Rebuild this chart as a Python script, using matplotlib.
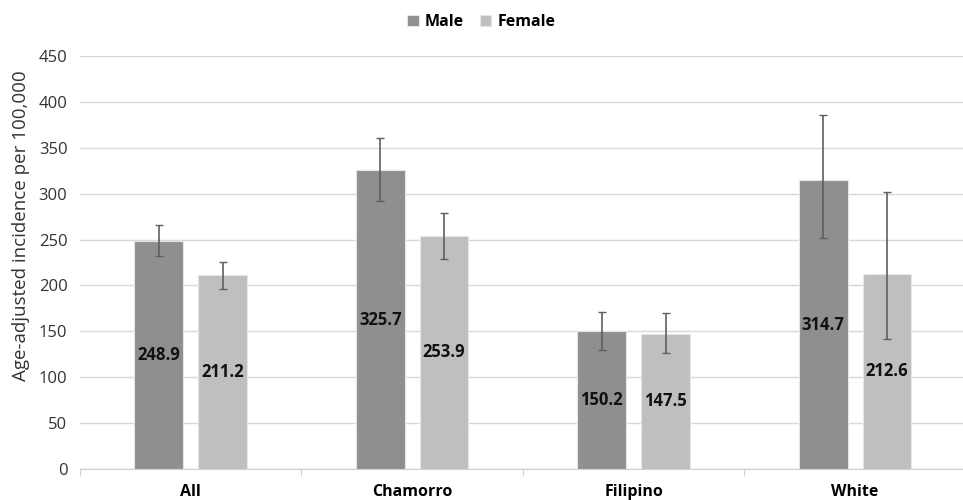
import numpy as np
import matplotlib.pyplot as plt

plt.rcParams["font.family"] = ["Open Sans", "DejaVu Sans"]

categories = ["All", "Chamorro", "Filipino", "White"]
male = [248.9, 325.7, 150.2, 314.7]
female = [211.2, 253.9, 147.5, 212.6]
male_lo = [231.6, 291.6, 129.6, 252.0]
male_hi = [266.0, 361.0, 171.4, 385.6]
female_lo = [195.7, 228.8, 126.0, 141.3]
female_hi = [225.8, 279.0, 169.6, 301.4]

male_color = "#8f8f8f"
female_color = "#bfbfbf"

fig = plt.figure(figsize=(9.63, 5), dpi=100)
ax = fig.add_axes([0.083, 0.062, 0.92, 0.826])

x = np.arange(len(categories))
w = 0.22
off = 0.144

for vals, lo, hi, color, sign, name in [
    (male, male_lo, male_hi, male_color, -1, "Male"),
    (female, female_lo, female_hi, female_color, 1, "Female"),
]:
    vals = np.array(vals)
    err = [vals - np.array(lo), np.array(hi) - vals]
    ax.bar(x + sign * off, vals, w, color=color, edgecolor="#e6e6e6",
           linewidth=0.8, label=name, zorder=2)
    ax.errorbar(x + sign * off, vals, yerr=err, fmt="none", ecolor="#5f5f5f",
                elinewidth=1.2, capsize=3, capthick=1.0, zorder=3)
    for xi, v in zip(x + sign * off, vals):
        ax.text(xi, v / 2, f"{v:.1f}", ha="center", va="center",
                fontsize=12, fontweight="bold", color="#111111", zorder=4)

ax.set_ylim(0, 450)
ax.set_xlim(-0.5, 3.5)
ax.set_yticks(np.arange(0, 451, 50))
ax.tick_params(axis="y", length=0, labelsize=12, colors="#333333", pad=9)
ax.grid(axis="y", color="#d9d9d9", linewidth=1, zorder=0)

ax.set_xticks(np.arange(-0.5, 4, 1))
ax.set_xticklabels([])
ax.tick_params(axis="x", which="major", length=5, color="#d0d0d0", direction="out")
ax.set_xticks(x, minor=True)
ax.set_xticklabels(categories, minor=True, fontweight="bold", fontsize=11.5)
ax.tick_params(axis="x", which="minor", length=0, pad=11)

for s in ["top", "right", "left"]:
    ax.spines[s].set_visible(False)
ax.spines["bottom"].set_color("#d0d0d0")

ax.set_ylabel("Age-adjusted incidence per 100,000", fontsize=13.5, color="#333333")
ax.yaxis.set_label_coords(-0.056, 0.59)

fig.legend(loc="upper center", bbox_to_anchor=(0.5, 1.0), ncol=2, frameon=False,
           handlelength=0.7, handleheight=0.7, handletextpad=0.4, columnspacing=1.0,
           prop={"weight": "bold", "size": 11.5})

fig.savefig("out.png", dpi=100)
